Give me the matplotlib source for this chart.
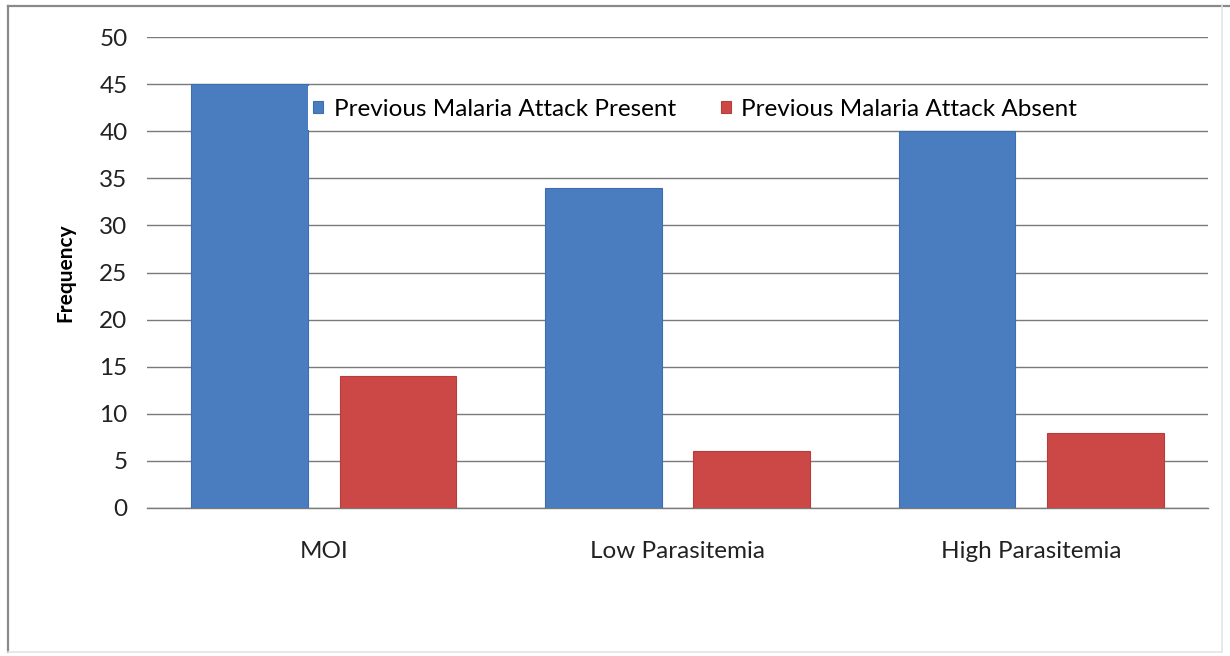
import matplotlib
matplotlib.use("Agg")
import matplotlib.pyplot as plt
from matplotlib.lines import Line2D
from matplotlib.patches import Rectangle
import numpy as np

categories = ["MOI", "Low Parasitemia", "High Parasitemia"]
present = [45, 34, 40]
absent = [14, 6, 8]
series_names = ["Previous Malaria Attack Present", "Previous Malaria Attack Absent"]
y_ticks = [0, 5, 10, 15, 20, 25, 30, 35, 40, 45, 50]

plt.rcParams['font.family'] = ['Lato', 'DejaVu Sans']

W, H = 1230, 656
fig = plt.figure(figsize=(W / 100, H / 100), dpi=100)
fig.patch.set_facecolor("white")

# outer chart frame
fig.add_artist(Line2D([8 / W, 8 / W], [1 - 6 / H, 1 - 652 / H], transform=fig.transFigure, color="#8a8a8a", lw=1.6))
fig.add_artist(Line2D([8 / W, 1.0], [1 - 6 / H, 1 - 6 / H], transform=fig.transFigure, color="#8a8a8a", lw=1.6))
fig.add_artist(Line2D([8 / W, 1222 / W], [1 - 652 / H, 1 - 652 / H], transform=fig.transFigure, color="#e4e4e4", lw=1.2))
fig.add_artist(Line2D([1222 / W, 1222 / W], [1 - 6 / H, 1 - 652 / H], transform=fig.transFigure, color="#e4e4e4", lw=1.2))

left, right, top, bottom = 147, 1208, 37, 508
ax = fig.add_axes([left / W, 1 - bottom / H, (right - left) / W, (bottom - top) / H])

x = np.arange(len(categories))
width = 0.33
offset = 0.21
ax.bar(x - offset, present, width, color="#4a7cc0", edgecolor="#3f6db0", lw=0.8, zorder=3,
       label=series_names[0])
ax.bar(x + offset, absent, width, color="#cb4846", edgecolor="#b83c3a", lw=0.8, zorder=3,
       label=series_names[1])

ax.set_xlim(-0.5, len(categories) - 0.5)
ax.set_ylim(0, 50)
ax.set_yticks(y_ticks)
ax.set_xticks(x)
ax.set_xticklabels(categories)
ax.tick_params(axis="both", length=0, labelsize=17.5, colors="#222222")
ax.tick_params(axis="y", pad=14)
ax.tick_params(axis="x", pad=24)
ax.yaxis.grid(True, color="#7a7a7a", lw=1.0, zorder=0)
ax.set_axisbelow(True)
for s in ["top", "right", "left"]:
    ax.spines[s].set_visible(False)
ax.spines["bottom"].set_color("#7a7a7a")
ax.spines["bottom"].set_linewidth(1.0)

ax.set_ylabel("Frequency", fontsize=15, fontweight="bold", labelpad=17)

# white legend band between the 40 and 45 gridlines
band_x0 = -offset + width / 2
ax.add_patch(Rectangle((band_x0, 40.15), len(categories) - 0.5 - band_x0, 4.7,
                       facecolor="white", edgecolor="none", zorder=4))
leg = ax.legend(loc="center left", bbox_to_anchor=(0.1565, 0.847), ncol=2, frameon=False,
                fontsize=17.5, handlelength=0.4, handleheight=0.4, handletextpad=0.45,
                columnspacing=1.85, borderaxespad=0, borderpad=0)
leg.set_zorder(5)

fig.savefig("out.png", dpi=100, facecolor="white")
